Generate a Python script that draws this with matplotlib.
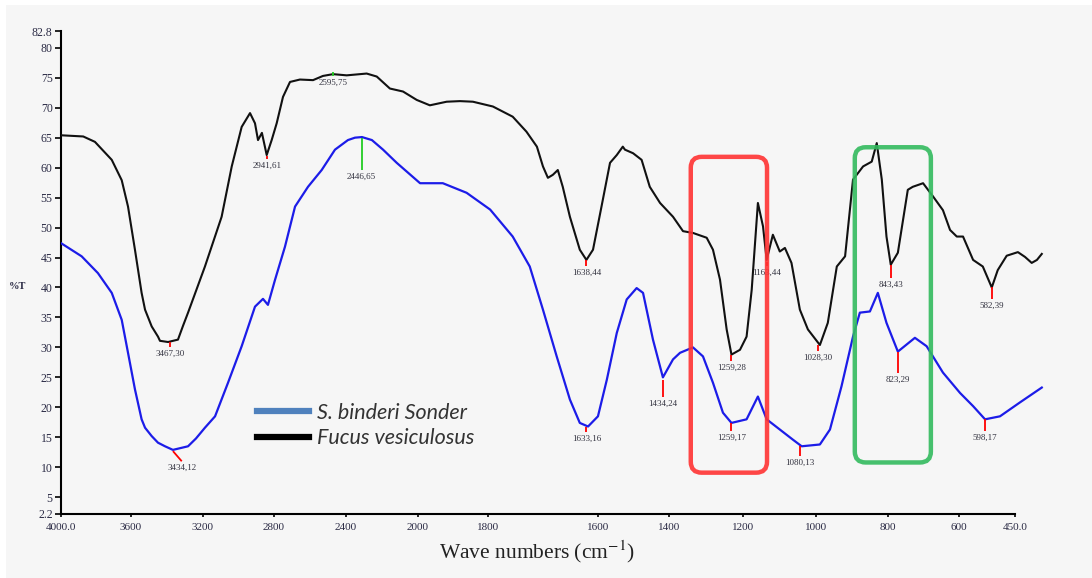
import numpy as np
import matplotlib
matplotlib.use("Agg")
import matplotlib.pyplot as plt
from matplotlib.lines import Line2D
from matplotlib.patches import FancyBboxPatch, Rectangle

# ---- data (wavenumber cm-1, %T) ----
fucus_wn = [4000, 3873, 3806, 3710, 3653, 3617, 3578, 3541, 3522, 3485, 3450, 3439, 3394,
            3339, 3311, 3283, 3189, 3095, 3038, 2982, 2935, 2907, 2890, 2868, 2841, 2813,
            2785, 2750, 2711, 2656, 2583, 2528, 2472, 2396, 2285, 2229, 2156, 2083, 2007,
            1966, 1918, 1880, 1843, 1791, 1755, 1730, 1711, 1700, 1691, 1682, 1673, 1664,
            1651, 1633, 1621, 1609, 1590, 1566, 1547, 1530, 1524, 1501, 1477, 1454, 1425,
            1389, 1362, 1335, 1298, 1281, 1262, 1244, 1231, 1208, 1190, 1176, 1159, 1145,
            1135, 1118, 1099, 1085, 1067, 1044, 1022, 989, 967, 942, 919, 897, 869, 845,
            831, 817, 804, 792, 772, 744, 730, 701, 673, 645, 625, 606, 589, 562, 536, 512,
            496, 472, 442, 423, 405, 391, 378]
fucus_t = [65.4, 65.2, 64.3, 61.3, 57.9, 53.5, 46.3, 39.1, 36.3, 33.5, 31.8, 31.1, 30.9,
           31.3, 33.6, 35.8, 43.5, 51.8, 60.2, 66.8, 69.1, 67.4, 64.6, 65.8, 62.1, 64.6,
           67.4, 71.8, 74.3, 74.7, 74.6, 75.3, 75.6, 75.4, 75.7, 75.2, 73.2, 72.7, 71.3,
           70.4, 71.0, 71.1, 71.0, 70.2, 68.5, 66.0, 63.5, 60.2, 58.3, 58.8, 59.6, 56.8,
           51.8, 46.3, 44.6, 46.3, 53.5, 60.8, 62.1, 63.5, 63.0, 62.4, 61.3, 56.8, 54.1,
           51.8, 49.4, 49.1, 48.3, 46.3, 41.3, 33.0, 28.8, 29.6, 31.8, 39.6, 54.1, 50.2,
           44.6, 48.8, 46.0, 46.6, 44.1, 36.3, 33.0, 30.4, 34.1, 43.5, 45.2, 58.0, 60.2,
           61.0, 64.1, 58.0, 48.5, 43.8, 45.8, 56.3, 56.8, 57.4, 55.2, 52.9, 49.6, 48.5,
           48.5, 44.6, 43.5, 40.0, 42.9, 45.3, 45.9, 45.1, 44.1, 44.6, 45.6]

binderi_wn = [4000, 3882, 3789, 3710, 3653, 3617, 3578, 3541, 3522, 3485, 3450, 3411, 3367,
              3283, 3239, 3189, 3132, 3059, 2982, 2907, 2862, 2834, 2794, 2739, 2683, 2611,
              2535, 2461, 2389, 2350, 2311, 2256, 2194, 2118, 1994, 1929, 1861, 1796, 1755,
              1724, 1700, 1675, 1651, 1633, 1618, 1600, 1575, 1547, 1519, 1491, 1473, 1445,
              1417, 1389, 1370, 1335, 1308, 1281, 1254, 1231, 1190, 1159, 1135, 1099, 1063,
              1039, 989, 961, 929, 897, 878, 850, 828, 804, 772, 724, 691, 645, 597, 562,
              530, 490, 437, 378]
binderi_t = [47.4, 45.2, 42.4, 39.1, 34.6, 29.1, 23.0, 18.0, 16.6, 15.2, 14.1, 13.5, 12.9,
             13.5, 14.8, 16.6, 18.5, 24.1, 30.2, 36.8, 38.1, 37.1, 41.3, 46.8, 53.5, 56.8,
             59.6, 63.0, 64.6, 65.0, 65.1, 64.6, 63.0, 60.8, 57.4, 57.4, 55.8, 53.0, 48.5,
             43.5, 36.3, 28.5, 21.3, 17.4, 16.8, 18.5, 24.6, 32.4, 38.0, 39.9, 39.1, 31.3,
             25.0, 28.0, 29.1, 30.0, 28.5, 24.1, 19.1, 17.4, 18.0, 21.8, 18.0, 16.3, 14.6,
             13.5, 13.8, 16.3, 23.5, 31.8, 35.8, 36.0, 39.1, 34.1, 29.3, 31.6, 30.2, 25.8,
             22.4, 20.2, 18.0, 18.5, 20.8, 23.3]

x_ticks = [4000, 3600, 3200, 2800, 2400, 2000, 1800, 1600, 1400, 1200, 1000, 800, 600, 450]
x_labels = ["4000.0", "3600", "3200", "2800", "2400", "2000", "1800", "1600", "1400",
            "1200", "1000", "800", "600", "450.0"]
y_ticks = [2.2, 5, 10, 15, 20, 25, 30, 35, 40, 45, 50, 55, 60, 65, 70, 75, 80, 82.8]
y_labels = ["2.2", "5", "10", "15", "20", "25", "30", "35", "40", "45", "50", "55", "60",
            "65", "70", "75", "80", "82.8"]

# peak marks: label, x top, %T top, x bottom, %T bottom, colour
peaks = [
    ("3467,30", 3383, 30.9, 3383, 30.1, "red"),
    ("2941,61", 2841, 62.0, 2841, 61.4, "red"),
    ("2595,75", 2472, 75.9, 2472, 75.3, "#22cc22"),
    ("1638,44", 1621, 44.6, 1621, 43.6, "red"),
    ("1259,28", 1231, 28.8, 1231, 27.8, "red"),
    ("1163,44", 1135, 44.3, 1135, 43.6, "red"),
    ("1028,30", 994, 30.4, 994, 29.4, "red"),
    ("843,43", 792, 43.8, 792, 41.6, "red"),
    ("582,39", 512, 40.0, 512, 38.0, "red"),
    ("3434,12", 3367, 12.7, 3318, 11.0, "red"),
    ("2446,65", 2313, 65.0, 2313, 59.6, "#22cc22"),
    ("1633,16", 1621, 16.8, 1621, 15.9, "red"),
    ("1434,24", 1417, 24.6, 1417, 21.8, "red"),
    ("1259,17", 1231, 17.4, 1231, 16.0, "red"),
    ("1080,13", 1044, 13.5, 1044, 11.8, "red"),
    ("823,29", 771, 29.3, 771, 25.7, "red"),
    ("598,17", 530, 18.0, 530, 16.0, "red"),
]

# highlight boxes: x left, x right, %T top, %T bottom, colour
boxes = [(1341, 1134, 61.8, 9.1, "#ff3333"), (892, 679, 63.4, 10.8, "#33bb5e")]

# uneven wavenumber axis of the instrument printout (position grows with wavenumber)
knot_wn = np.array([300, 450, 600, 800, 1000, 1200, 1400, 1600, 1800, 2000, 2400, 2800,
                    3200, 3600, 4000, 4100], dtype=float)
knot_pos = 1010 - np.array([1010, 954, 898, 827, 755, 682, 608, 537, 427, 357, 285, 213,
                            142, 70, 0, -17.5], dtype=float)


def forward(w):
    return np.interp(w, knot_wn, knot_pos)


def inverse(p):
    return np.interp(p, knot_pos, knot_wn)


plt.rcParams["font.family"] = ["Liberation Serif", "DejaVu Serif"]
plt.rcParams["mathtext.fontset"] = "stix"

W, H = 1092, 578
fig = plt.figure(figsize=(W / 100, H / 100), dpi=100, facecolor="white")
fig.patches.append(Rectangle((6 / W, 0), 1, 1 - 5 / H, transform=fig.transFigure,
                             facecolor="#f6f6f6", edgecolor="none", zorder=-10))

ax = fig.add_axes([61 / W, 64 / H, 989 / W, 483 / H])
ax.set_facecolor("none")
ax.set_xscale("function", functions=(forward, inverse))
ax.set_xlim(4000, 356)
ax.set_ylim(2.2, 82.8)

ax.plot(fucus_wn, fucus_t, color="#111111", lw=1.5, zorder=3, solid_joinstyle="round")
ax.plot(binderi_wn, binderi_t, color="#1c1ce8", lw=1.6, zorder=3, solid_joinstyle="round")

for lab, x0, t0, x1, t1, c in peaks:
    ax.plot([x0, x1], [t0, t1], color=c, lw=1.3, zorder=4, solid_capstyle="butt")
    ax.annotate(lab, (x1, t1), xytext=(0, -4.9), textcoords="offset points",
                ha="center", va="center", fontsize=6.5, color="#333340")

to_axes = ax.transData + ax.transAxes.inverted()
for xl, xr, tt, tb, c in boxes:
    (ax0, ay0), (ax1, ay1) = to_axes.transform([(xl, tb), (xr, tt)])
    ax.add_patch(FancyBboxPatch((ax0, ay0), ax1 - ax0, ay1 - ay0,
                                boxstyle="round,pad=0,rounding_size=0.011",
                                mutation_aspect=989 / 483, transform=ax.transAxes,
                                facecolor="none", edgecolor=c, lw=3.2, alpha=0.9,
                                zorder=5, clip_on=False))

for s in ["top", "right"]:
    ax.spines[s].set_visible(False)
ax.spines["left"].set_linewidth(1.5)
ax.spines["bottom"].set_linewidth(1.5)
ax.spines["bottom"].set_bounds(4000, 450)

ax.set_xticks(x_ticks)
ax.set_xticklabels(x_labels)
ax.set_yticks(y_ticks)
ax.set_yticklabels(y_labels)
ax.minorticks_off()
ax.tick_params(axis="x", direction="out", length=2.5, width=1.2, pad=4,
               labelsize=8, labelcolor="#2a2a44")
ax.tick_params(axis="y", direction="out", length=4, width=1.2, pad=2,
               labelsize=8.5, labelcolor="#2a2a44")

fig.text(18 / W, 1 - 287 / H, "%T", ha="center", va="center", fontsize=7.5,
         color="#2a2a44", fontweight="bold")
fig.text(537 / W, 1 - 552 / H, "Wave numbers (cm$^{-1}$)", ha="center", va="center",
         fontsize=15.5, color="#222222")

handles = [Line2D([], [], color="#4f81bd", lw=4.5), Line2D([], [], color="black", lw=4.5)]
ax.legend(handles, ["S. binderi Sonder", "Fucus vesiculosus"], loc="center left",
          bbox_to_anchor=(257 / W, 1 - 425.5 / H), bbox_transform=fig.transFigure,
          frameon=False, borderpad=0, borderaxespad=0, handlelength=2.4,
          handletextpad=0.4, labelspacing=0.26,
          prop=dict(family="Lato", style="italic", size=15.5), labelcolor="#333333")

fig.savefig("out.png", dpi=100, facecolor=fig.get_facecolor())
